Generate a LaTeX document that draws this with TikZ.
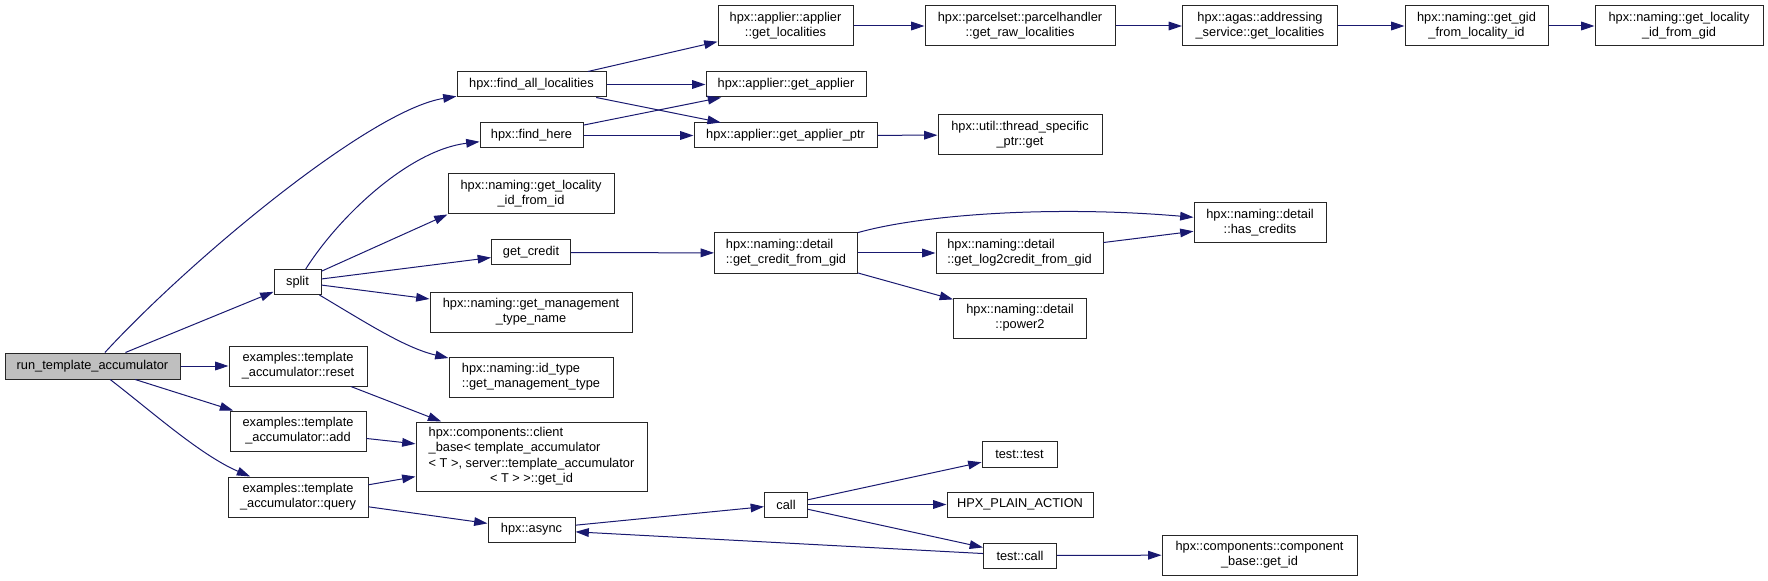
\documentclass[tikz,border=0pt]{standalone}
\usepackage{fontspec}
\setmainfont{Liberation Sans}
\usepackage{tikz}
\usetikzlibrary{arrows.meta}
\definecolor{edgeBlue}{RGB}{25,25,112}
\definecolor{rootGray}{RGB}{191,191,191}

\begin{document}
\begin{tikzpicture}[x=0.75pt, y=-0.75pt,
          fn/.style={rectangle, draw=black!85, line width=0.75pt, fill=white, inner sep=0pt,
            minimum height=18.75pt, align=center, font=\fontsize{9.6}{11.3}\selectfont},
          fnn/.style={fn, minimum height=30pt},
          calls/.style={-{Triangle[length=10pt, width=6.5pt]}, edgeBlue, line width=0.75pt}]
        \useasboundingbox (0,0) rectangle (1768,581);
        % first column
        \node[fn, fill=rootGray, minimum width=131.25pt, minimum height=19.5pt] (run) at (92.5,366) {run\_template\_accumulator};
        \node[fn, minimum width=35.25pt] (split) at (297.5,282) {split};
        \node[fnn, minimum width=103.5pt] (reset) at (298,366) {examples::template\\\_accumulator::reset};
        \node[fnn, minimum width=102pt] (add) at (298,431) {examples::template\\\_accumulator::add};
        \node[fnn, minimum width=105pt] (query) at (298,497) {examples::template\\\_accumulator::query};
        % second column
        \node[fn, minimum width=111.75pt] (fal) at (531.5,84.5) {hpx::find\_all\_localities};
        \node[fn, minimum width=77.25pt] (fh) at (531.5,135.5) {hpx::find\_here};
        \node[fnn, minimum width=124.5pt] (gliid) at (531,194) {hpx::naming::get\_locality\\\_id\_from\_id};
        \node[fn, minimum width=59.25pt] (gc) at (531,252.5) {get\_credit};
        \node[fnn, minimum width=151.5pt] (gmtn) at (531,312) {hpx::naming::get\_management\\\_type\_name};
        \node[fnn, minimum width=123pt, align=left] (idt) at (531,377) {hpx::naming::id\_type\\::get\_management\_type};
        \node[fn, minimum width=173.25pt, minimum height=51.75pt] (cb) at (531.5,456.5)
          {\begin{tabular}{@{}l@{}}hpx::components::client\\\_base< template\_accumulator\\< T >, server::template\_accumulator\\\multicolumn{1}{@{}c@{}}{< T > >::get\_id}\end{tabular}};
        \node[fn, minimum width=65.25pt] (async) at (531.5,529.5) {hpx::async};
        % third column
        \node[fnn, minimum width=101.25pt] (agl) at (785.5,26) {hpx::applier::applier\\::get\_localities};
        \node[fn, minimum width=120pt] (ga) at (786,84.5) {hpx::applier::get\_applier};
        \node[fn, minimum width=137.25pt] (gap) at (785.5,135.5) {hpx::applier::get\_applier\_ptr};
        \node[fnn, minimum width=107.25pt, align=left] (gcfg) at (786,253) {hpx::naming::detail\\::get\_credit\_from\_gid};
        \node[fn, minimum width=32.25pt] (call) at (786,504.5) {call};
        % fourth column
        \node[fnn, minimum width=142.5pt] (ph) at (1020,26) {hpx::parcelset::parcelhandler\\::get\_raw\_localities};
        \node[fnn, minimum width=123pt] (tsp) at (1020,135) {hpx::util::thread\_specific\\\_ptr::get};
        \node[fnn, minimum width=125.25pt, align=left] (l2c) at (1019.5,253) {hpx::naming::detail\\::get\_log2credit\_from\_gid};
        \node[fnn, minimum width=99.75pt] (p2) at (1020,318) {hpx::naming::detail\\::power2};
        \node[fn, minimum width=56.25pt, minimum height=19.5pt] (tt) at (1019.5,454) {test::test};
        \node[fn, minimum width=109.5pt] (hpa) at (1020,504.5) {HPX\_PLAIN\_ACTION};
        \node[fn, minimum width=54.75pt] (tc) at (1020,555.5) {test::call};
        % right columns
        \node[fnn, minimum width=116.25pt] (as) at (1260,26) {hpx::agas::addressing\\\_service::get\_localities};
        \node[fnn, minimum width=99pt] (hc) at (1260,223) {hpx::naming::detail\\::has\_credits};
        \node[fnn, minimum width=146.25pt] (cbg) at (1259.5,555) {hpx::components::component\\\_base::get\_id};
        \node[fnn, minimum width=107.25pt] (ggid) at (1476.5,26) {hpx::naming::get\_gid\\\_from\_locality\_id};
        \node[fnn, minimum width=126pt] (glid) at (1679,26) {hpx::naming::get\_locality\\\_id\_from\_gid};
        % straight calls
        \foreach \a/\b in {run/split, run/reset, run/add, split/gliid.south west, split/gc, split/gmtn,
            reset/cb, add/cb, query/cb, query/async, async/call,
            fal/agl, fal/ga, fal/gap, fh/ga, fh/gap, gc/gcfg,
            agl/ph, ph/as, as/ggid, ggid/glid, gap/tsp,
            gcfg/l2c, gcfg/p2, l2c/hc, call/tt, call/hpa, call/tc, tc/async, tc/cbg}{\draw[calls] (\a)--(\b);}
        % curved calls
        \draw[calls] (run) .. controls (190,260) and (370,110) .. (fal);
        \draw[calls] (run) .. controls (150,410) and (200,455) .. (query);
        \draw[calls] (split) .. controls (340,215) and (410,150) .. (fh);
        \draw[calls] (split) .. controls (365,322) and (405,348) .. (idt);
        \draw[calls] (gcfg) .. controls (920,215) and (1050,205) .. (hc);
      \end{tikzpicture}
\end{document}
